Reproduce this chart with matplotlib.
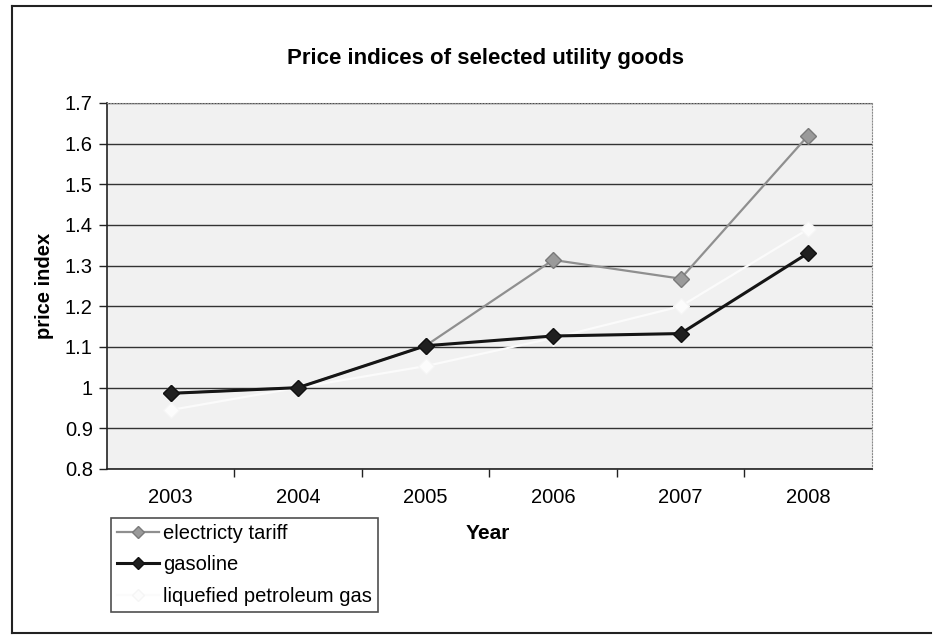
import matplotlib.pyplot as plt
from matplotlib.lines import Line2D

years = ["2003", "2004", "2005", "2006", "2007", "2008"]
electricity = [0.986, 1.0, 1.103, 1.314, 1.268, 1.62]
gasoline = [0.986, 1.0, 1.103, 1.127, 1.133, 1.331]
lpg = [0.945, 1.0, 1.053, 1.122, 1.2, 1.39]
y_ticks = [0.8, 0.9, 1.0, 1.1, 1.2, 1.3, 1.4, 1.5, 1.6, 1.7]
y_labels = ["0.8", "0.9", "1", "1.1", "1.2", "1.3", "1.4", "1.5", "1.6", "1.7"]

plt.rcParams["font.family"] = ["Liberation Sans", "DejaVu Sans"]

fig = plt.figure(figsize=(9.33, 6.36), dpi=100)
ax = fig.add_axes([0.1144, 0.2626, 0.8202, 0.5755])
ax.set_facecolor("#f1f1f1")

# outer chart frame (left, top, bottom only)
frame = dict(transform=fig.transFigure, color="#222222", lw=1.5)
fig.add_artist(Line2D([0.013, 0.013], [0.005, 0.99], **frame))
fig.add_artist(Line2D([0.013, 0.998], [0.99, 0.99], **frame))
fig.add_artist(Line2D([0.013, 0.998], [0.005, 0.005], **frame))

x = list(range(len(years)))
ax.plot(x, electricity, color="#8f8f8f", lw=1.6, marker="D", ms=8,
        mfc="#9a9a9a", mec="#7a7a7a", label="electricty tariff", zorder=3)
ax.plot(x, lpg, color="#fbfbfb", lw=1.6, marker="D", ms=8,
        mfc="#fcfcfc", mec="#f5f5f5", label="liquefied petroleum gas", zorder=3)
ax.plot(x, gasoline, color="#151515", lw=2.2, marker="D", ms=8,
        mfc="#202020", mec="#111111", label="gasoline", zorder=4)

ax.set_xlim(-0.5, len(years) - 0.5)
ax.set_ylim(0.8, 1.7)
ax.set_yticks(y_ticks)
ax.set_yticklabels(y_labels)
ax.yaxis.grid(True, color="#333333", lw=1.0)
ax.set_axisbelow(True)

ax.set_xticks(x)
ax.set_xticklabels(years)
ax.set_xticks([i + 0.5 for i in range(len(years) - 1)], minor=True)
ax.tick_params(axis="x", which="major", length=0, pad=14, labelsize=14.5)
ax.tick_params(axis="x", which="minor", length=6, width=1, direction="out", color="#222222")
ax.tick_params(axis="y", length=6, width=1, direction="out", labelsize=14.5, pad=4, color="#222222")

for side in ["top", "right"]:
    ax.spines[side].set_color("#8a8a8a")
    ax.spines[side].set_linestyle(":")
for side in ["left", "bottom"]:
    ax.spines[side].set_color("#222222")
    ax.spines[side].set_linewidth(1.2)

ax.set_ylabel("price index", fontsize=14.5, fontweight="bold", labelpad=8)
fig.text(0.523, 0.161, "Year", fontsize=15, fontweight="bold", ha="center", va="center")
fig.text(0.52, 0.908, "Price indices of selected utility goods", fontsize=16,
         fontweight="bold", ha="center", va="center")

handles, labels = ax.get_legend_handles_labels()
order = [0, 2, 1]
leg = fig.legend([handles[i] for i in order], [labels[i] for i in order],
                 loc="upper left", bbox_to_anchor=(0.119, 0.186), fontsize=14.5,
                 frameon=True, fancybox=False, edgecolor="#222222",
                 handlelength=2.1, handletextpad=0.2, borderpad=0.3,
                 labelspacing=0.62, borderaxespad=0, markerscale=0.8)
leg.get_frame().set_linewidth(1.2)

fig.savefig("out.png", dpi=100)
